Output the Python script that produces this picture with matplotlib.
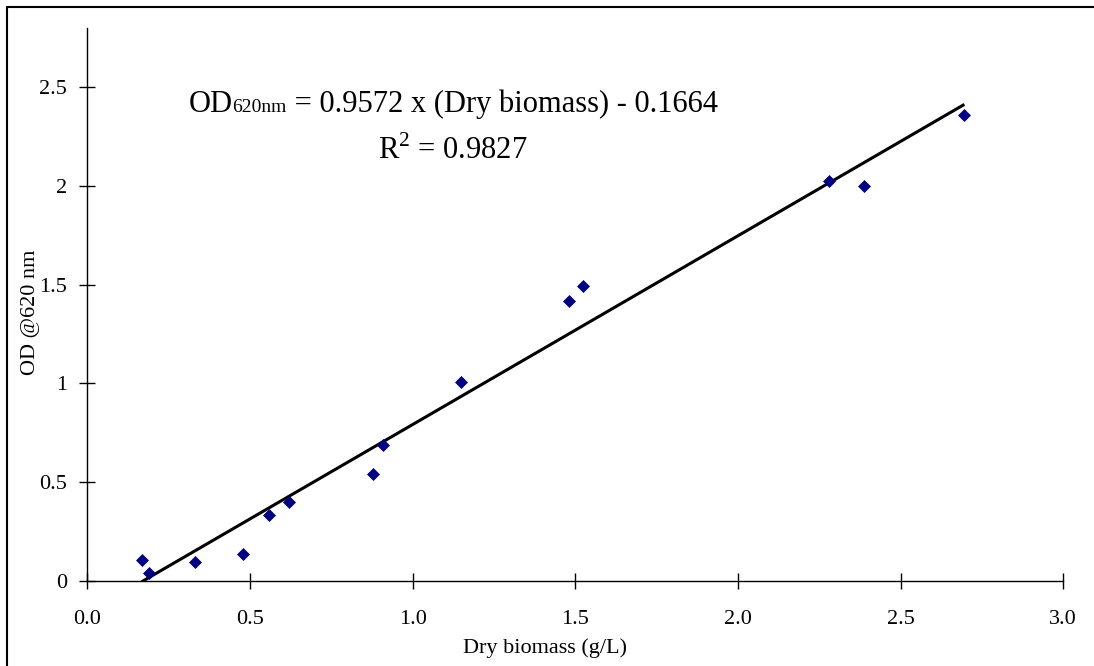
import matplotlib
matplotlib.use("Agg")
import matplotlib.pyplot as plt
from matplotlib.patches import Rectangle
import numpy as np

plt.rcParams['font.family'] = ['Liberation Serif', 'DejaVu Serif']
plt.rcParams['mathtext.fontset'] = 'custom'
plt.rcParams['mathtext.rm'] = 'Liberation Serif'

# dry biomass (g/L) vs OD at 620 nm
biomass = [0.167, 0.191, 0.332, 0.478, 0.560, 0.619, 0.877, 0.910,
           1.150, 1.482, 1.523, 2.281, 2.387, 2.696]
od620 = [0.104, 0.036, 0.096, 0.134, 0.330, 0.398, 0.538, 0.688,
         1.006, 1.419, 1.493, 2.027, 2.002, 2.360]
slope = 0.9572
intercept = -0.1664
x_ticks = [0.0, 0.5, 1.0, 1.5, 2.0, 2.5, 3.0]
x_labels = ["0.0", "0.5", "1.0", "1.5", "2.0", "2.5", "3.0"]
y_ticks = [0, 0.5, 1, 1.5, 2, 2.5]
y_labels = ["0", "0.5", "1", "1.5", "2", "2.5"]

W, H = 1094, 666
fig = plt.figure(figsize=(W / 100, H / 100), dpi=100)
ax = fig.add_axes([87.3 / W, 1 - 580.5 / H, 976 / W, (580.5 - 28.3) / H])

# trendline over the data range
xf = np.array([min(biomass), max(biomass)])
ax.plot(xf, slope * xf + intercept, color='black', lw=2.2, solid_capstyle='butt', zorder=2)
ax.plot(biomass, od620, ls='none', marker='D', ms=6, color='#000080',
        mec='#000080', mew=0.5, zorder=3)

ax.set_xlim(0, 3.0)
ax.set_ylim(0, 2.8)
ax.set_xticks(x_ticks)
ax.set_xticklabels(x_labels)
ax.set_yticks(y_ticks)
ax.set_yticklabels(y_labels)
for s in ['top', 'right']:
    ax.spines[s].set_visible(False)
for s in ['left', 'bottom']:
    ax.spines[s].set_linewidth(1.0)
ax.tick_params(axis='both', direction='inout', length=11, width=1.0, labelsize=16)
ax.tick_params(axis='x', pad=16)
ax.tick_params(axis='y', pad=9)

fig.text(545 / W, 1 - 648 / H, "Dry biomass (g/L)", fontsize=16, ha='center', va='center')
fig.text(31 / W, 1 - 312 / H, "OD @620 nm", fontsize=16, ha='center', va='center', rotation=90)

# equation, pieced together so the subscript sits on the baseline
t1 = ax.text(0.3105, 2.377, "OD", fontsize=22, va='baseline', ha='left')
t2 = ax.annotate("620nm", xy=(1, 2.377), xycoords=(t1, 'data'),
                 fontsize=14, va='baseline', ha='left')
t3 = ax.annotate(" = 0.9572 x (Dry biomass) - 0.1664", xy=(1, 2.377),
                 xycoords=(t2, 'data'), fontsize=22, va='baseline', ha='left')
fig.canvas.draw()
x0 = t1.get_window_extent().x0
x1 = t3.get_window_extent().x1
xc = ax.transData.inverted().transform(((x0 + x1) / 2, 0))[0]
ax.text(xc, 2.135, r"R$^{\mathrm{2}}$ = 0.9827", fontsize=22, va='baseline', ha='center')

# outer frame of the chart area
fig.patches.append(Rectangle((7 / W, -0.1), 1.2, 1.1 - 7 / H, transform=fig.transFigure,
                             fill=False, edgecolor='black', lw=1.5))

fig.savefig("out.png", dpi=100)
